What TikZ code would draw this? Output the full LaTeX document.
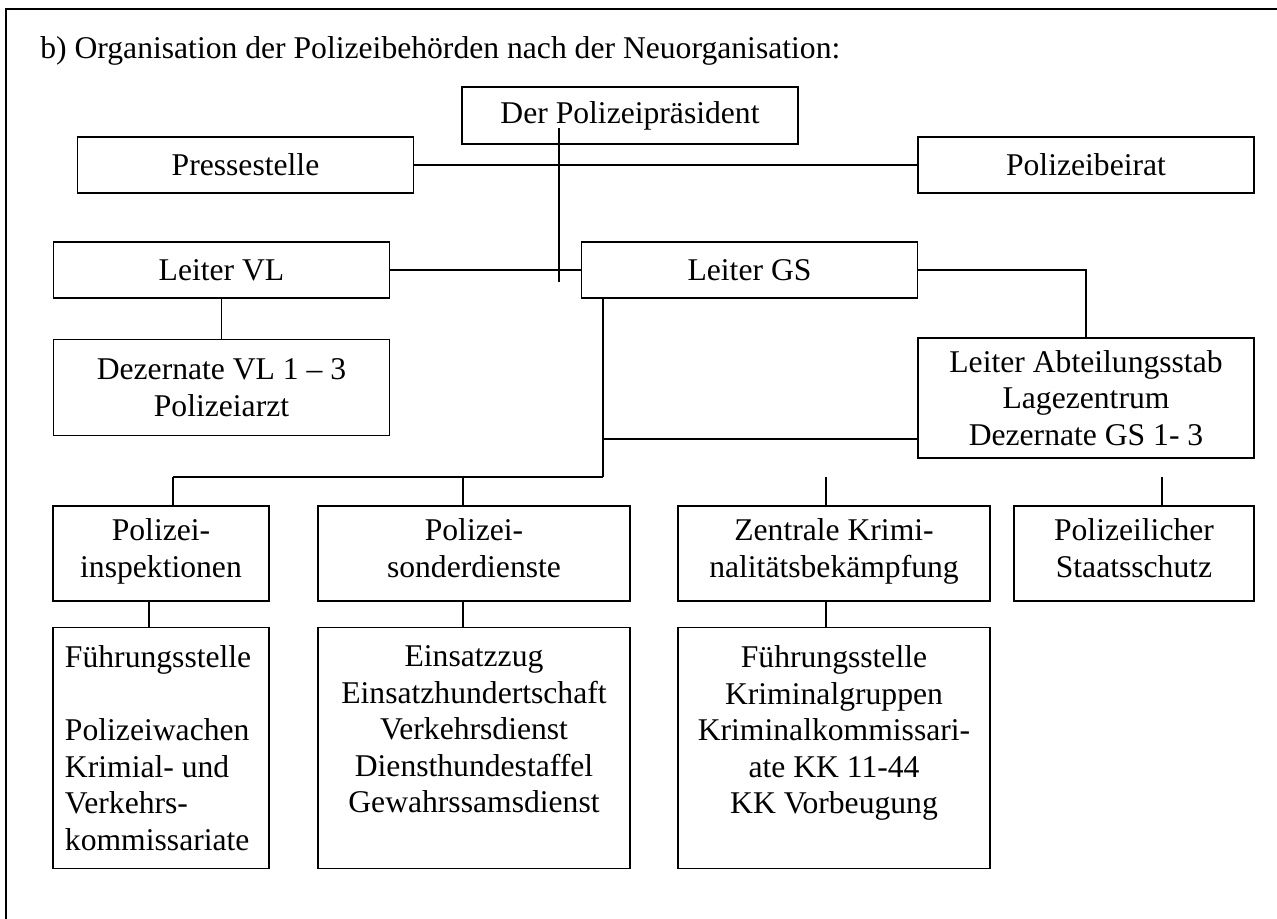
\documentclass[tikz,border=0pt]{standalone}
\usepackage{fontspec}
\setmainfont{Liberation Serif}
\usetikzlibrary{positioning}
\tikzset{%
	box/.style={draw, line width=0.9pt, align=center, inner sep=0mm, minimum height=11.2mm},
	wide/.style={box, minimum width=67.2mm},
	unit/.style={box, minimum height=19mm, execute at begin node=\strut, execute at end node=\strut},
	sub/.style={draw, line width=0.9pt, inner xsep=2.4mm, inner ysep=3.6mm},
	connector/.style={line width=0.9pt}
}
\newcommand{\subtext}[2]{\parbox[t][41mm][t]{#1}{#2}}

\begin{document}
\begin{tikzpicture}[x=0.2mm, y=-0.2mm, font=\fontsize{18}{20.8}\selectfont]
	\useasboundingbox (0,0) rectangle (1277,919);
	\draw[connector] (6,919) -- (6,9) -- (1277,9);

	\node[anchor=base west, inner sep=0pt] (titel) at (40,58)
		{b) Organisation der Polizeibehörden nach der Neuorganisation:};

	% Leitung
	\node[wide, minimum height=11.4mm] (praes) at (630,115.5) {Der Polizeipräsident};
	\node[wide] (presse) at (245.5,165) {Pressestelle};
	\node[wide] (beirat) at (1086,165) {Polizeibeirat};
	\node[wide] (leitvl) at (221.5,270) {Leiter VL};
	\node[wide] (leitgs) at (749.5,270) {Leiter GS};
	\node[wide, minimum height=19.2mm, below=8mm of leitvl] (dezvl) {Dezernate VL 1 – 3\\ Polizeiarzt};
	\node[wide, minimum height=24mm] (abtstab) at (1086,398)
		{Leiter Abteilungsstab\\ Lagezentrum\\ Dezernate GS 1- 3};

	% Abteilungen
	\node[unit, minimum width=43.2mm] (insp) at (161,553.5) {Polizei-\\ inspektionen};
	\node[unit, minimum width=62.4mm] (sonder) at (474,553.5) {Polizei-\\ sonderdienste};
	\node[unit, minimum width=62.4mm] (zkb) at (834,553.5) {Zentrale Krimi-\\ nalitätsbekämpfung};
	\node[unit, minimum width=48mm] (staats) at (1134,553.5) {Polizeilicher\\ Staatsschutz};

	\node[sub, below=5mm of insp] (fuehr) {\subtext{38.4mm}{\raggedright Führungsstelle\\[\baselineskip]
		Polizeiwachen\\ Krimial- und\\ Verkehrs-\\ kommissariate}};
	\node[sub, below=5mm of sonder] (einsatz) {\subtext{57.6mm}{\centering Einsatzzug\\
		Einsatzhundertschaft\\ Verkehrsdienst\\ Diensthundestaffel\\ Gewahrssamsdienst}};
	\node[sub, below=5mm of zkb] (krim) {\subtext{57.6mm}{\centering Führungsstelle\\
		Kriminalgruppen\\ Kriminalkommissari-\\ ate KK 11-44\\ KK Vorbeugung}};

	% Verbindungen
	\coordinate (p1) at (559,128);
	\coordinate (p2) at (559,282);
	\coordinate (gsmid) at (603,439);
	\coordinate (gsab) at (603,477);
	\coordinate (bar1) at (173,477);
	\coordinate (bar2) at (463,477);
	\coordinate (bar3) at (826,477);
	\coordinate (bar4) at (1162,477);

	\draw[connector] (p1) -- (p2);
	\draw[connector] (presse) -- (beirat);
	\draw[connector] (leitvl) -- (leitgs);
	\draw[connector] (leitgs.east) -| (abtstab.north);
	\draw[connector] (leitvl) -- (dezvl);
	\draw[connector] (leitgs.south -| gsab) -- (gsab);
	\draw[connector] (gsmid) -- (gsmid -| abtstab.west);
	\draw[connector] (bar1) -- (gsab);
	\draw[connector] (bar1) -- (bar1 |- insp.north);
	\draw[connector] (bar2) -- (bar2 |- sonder.north);
	\draw[connector] (bar3) -- (bar3 |- zkb.north);
	\draw[connector] (bar4) -- (bar4 |- staats.north);
	\draw[connector] ([xshift=-2.4mm]insp.south) -- ([xshift=-2.4mm]fuehr.north);
	\draw[connector] ([xshift=-2.2mm]sonder.south) -- ([xshift=-2.2mm]einsatz.north);
	\draw[connector] ([xshift=-1.6mm]zkb.south) -- ([xshift=-1.6mm]krim.north);
\end{tikzpicture}
\end{document}
